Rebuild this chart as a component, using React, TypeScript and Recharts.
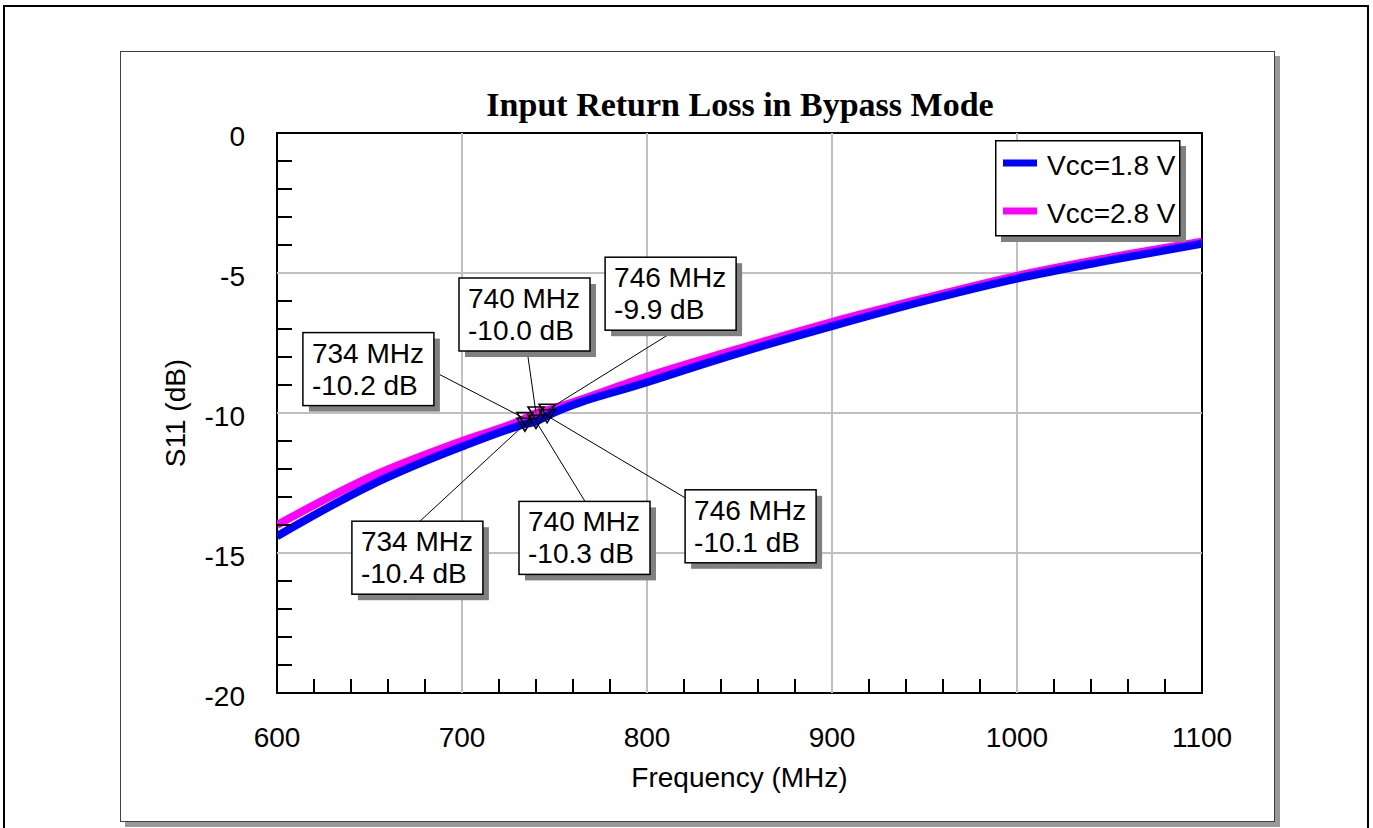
import React from 'react'
import {
  ComposedChart,
  Line,
  Scatter,
  XAxis,
  YAxis,
  ReferenceLine,
  ReferenceArea,
  Legend,
} from 'recharts'

// frequency (MHz)
const freqs = [600, 650, 700, 734, 740, 746, 800, 850, 900, 950, 1000, 1050, 1100]
// S11 (dB)
const s11Vcc18 = [-14.4, -12.6, -11.2, -10.4, -10.3, -10.1, -8.9, -7.85, -6.9, -6.0, -5.2, -4.55, -3.95]
const s11Vcc28 = [-14.0, -12.3, -11.0, -10.2, -10.0, -9.9, -8.7, -7.7, -6.75, -5.9, -5.1, -4.45, -3.88]

const markerFreqs = [734, 740, 746]

const xMajor = [600, 700, 800, 900, 1000, 1100]
const yMajor = [-20, -15, -10, -5, 0]
const xTicks = Array.from({ length: 26 }, (_, i) => 600 + i * 20)
const yTicks = Array.from({ length: 21 }, (_, i) => -20 + i)

const series = [
  { key: 'v18', name: 'Vcc=1.8 V', color: '#0000ff' },
  { key: 'v28', name: 'Vcc=2.8 V', color: '#ff00ff' },
]

const data = freqs.map((f, i) => ({ freq: f, v18: s11Vcc18[i], v28: s11Vcc28[i] }))
const markerPts = data.filter((d) => markerFreqs.includes(d.freq))

const FONT = '"Liberation Sans", Arial, sans-serif'
const FS = 28

// where each marker's callout box sits, relative to the marker
const boxLayout: Record<string, { dx: number; dy: number; ax: number; ay: number }> = {
  'v28-734': { dx: -222, dy: -86, ax: 131, ay: 39 },
  'v28-740': { dx: -77, dy: -135, ax: 68, ay: 72 },
  'v28-746': { dx: 58, dy: -153, ax: 72, ay: 72 },
  'v18-734': { dx: -173, dy: 97, ax: 68, ay: 0 },
  'v18-740': { dx: -17, dy: 80, ax: 66, ay: 0 },
  'v18-746': { dx: 138, dy: 74, ax: 0, ay: 8 },
}

const markerShape = (key: string) => (props: any) => {
  const { cx, cy, payload } = props
  const lay = boxLayout[`${key}-${payload.freq}`]
  if (!lay) return <g />
  const bx = cx + lay.dx
  const by = cy + lay.dy
  return (
    <g>
      <line x1={cx} y1={cy} x2={bx + lay.ax} y2={by + lay.ay} stroke="#000" strokeWidth={1} />
      <rect x={bx + 6} y={by + 6} width={131} height={73} fill="#808080" />
      <rect x={bx} y={by} width={131} height={73} fill="#fff" stroke="#000" strokeWidth={1.5} />
      <text x={bx + 9} y={by + 30} fontFamily={FONT} fontSize={FS} fill="#000">
        {payload.freq} MHz
      </text>
      <text x={bx + 9} y={by + 62} fontFamily={FONT} fontSize={FS} fill="#000">
        {payload[key].toFixed(1)} dB
      </text>
      <path
        d={`M${cx - 8},${cy - 6} L${cx + 8},${cy - 6} L${cx},${cy + 7} Z`}
        fill="none"
        stroke="#000"
        strokeWidth={1.6}
      />
    </g>
  )
}

const YTick = (props: any) => {
  const { x, y, payload } = props
  const v = payload.value
  if (yMajor.includes(v)) {
    return (
      <g>
        <text x={x - 32} y={y + 3} textAnchor="end" dominantBaseline="central" fontFamily={FONT} fontSize={FS} fill="#000">
          {v}
        </text>
      </g>
    )
  }
  return (
    <g>
      <line x1={x} y1={y} x2={x + 15} y2={y} stroke="#000" strokeWidth={2} />
    </g>
  )
}

const XTick = (props: any) => {
  const { x, y, payload } = props
  const v = payload.value
  if (xMajor.includes(v)) {
    return (
      <g>
        <text x={x} y={y + 44} textAnchor="middle" dominantBaseline="central" fontFamily={FONT} fontSize={FS} fill="#000">
          {v}
        </text>
      </g>
    )
  }
  return (
    <g>
      <line x1={x} y1={y} x2={x} y2={y - 14} stroke="#000" strokeWidth={2} />
    </g>
  )
}

const LegendBox = () => (
  <svg width={192} height={103}>
    <rect x={6} y={6} width={185} height={96} fill="#808080" />
    <rect x={0.75} y={0.75} width={184} height={95} fill="#fff" stroke="#000" strokeWidth={1.5} />
    {series.map((s, i) => (
      <g key={s.key}>
        <line x1={8} x2={42} y1={23 + i * 48} y2={23 + i * 48} stroke={s.color} strokeWidth={7} />
        <text x={52} y={35 + i * 48} fontFamily={FONT} fontSize={FS} fill="#000">
          {s.name}
        </text>
      </g>
    ))}
  </svg>
)

export default function App() {
  return (
    <div style={{ position: 'absolute', left: 0, top: 0, width: 1373, height: 828, background: '#fff', overflow: 'hidden' }}>
      <div
        style={{
          position: 'absolute',
          left: 3,
          top: 5,
          width: 1366,
          height: 840,
          border: '2px solid #000',
          boxSizing: 'border-box',
        }}
      />
      <div
        style={{
          position: 'absolute',
          left: 120,
          top: 51,
          width: 1155,
          height: 771,
          border: '1px solid #404040',
          boxSizing: 'border-box',
          boxShadow: '5px 5px 0 #999',
          background: '#fff',
        }}
      />
      <div style={{ position: 'absolute', left: 0, top: 0 }}>
        <ComposedChart
          width={1373}
          height={828}
          data={data}
          margin={{ top: 133, right: 171, bottom: 35, left: 120 }}
        >
          {[700, 800, 900, 1000].map((v) => (
            <ReferenceLine key={`gx${v}`} x={v} stroke="#c0c0c0" strokeWidth={2} />
          ))}
          {[-15, -10, -5].map((v) => (
            <ReferenceLine key={`gy${v}`} y={v} stroke="#c0c0c0" strokeWidth={2} />
          ))}
          <XAxis
            dataKey="freq"
            type="number"
            domain={[600, 1100]}
            ticks={xTicks}
            interval={0}
            tickSize={0}
            tickMargin={0}
            axisLine={false}
            tickLine={false}
            tick={<XTick />}
            height={100}
            allowDataOverflow
            label={(p: any) => {
              const vb = p.viewBox || { x: 277, y: 693, width: 925, height: 100 }
              return (
                <text x={vb.x + vb.width / 2} y={vb.y + 94} textAnchor="middle" fontFamily={FONT} fontSize={FS} fill="#000">
                  Frequency (MHz)
                </text>
              )
            }}
          />
          <YAxis
            type="number"
            domain={[-20, 0]}
            ticks={yTicks}
            interval={0}
            tickSize={0}
            tickMargin={0}
            axisLine={false}
            tickLine={false}
            tick={<YTick />}
            width={157}
            allowDataOverflow
            label={(p: any) => {
              const vb = p.viewBox || { x: 120, y: 133, width: 157, height: 560 }
              const cx = vb.x + 55
              const cy = vb.y + vb.height / 2
              return (
                <text
                  x={cx}
                  y={cy}
                  transform={`rotate(-90, ${cx}, ${cy})`}
                  textAnchor="middle"
                  dominantBaseline="central"
                  fontFamily={FONT}
                  fontSize={FS}
                  fill="#000"
                >
                  S11 (dB)
                </text>
              )
            }}
          />
          <Line
            type="monotone"
            dataKey="v28"
            name="Vcc=2.8 V"
            stroke="#ff00ff"
            strokeWidth={8}
            dot={false}
            isAnimationActive={false}
          />
          <Line
            type="monotone"
            dataKey="v18"
            name="Vcc=1.8 V"
            stroke="#0000ff"
            strokeWidth={8}
            dot={false}
            isAnimationActive={false}
          />
          <ReferenceArea x1={600} x2={1100} y1={-20} y2={0} fill="none" stroke="#000" strokeWidth={2} />
          <Scatter
            data={markerPts}
            dataKey="v28"
            legendType="none"
            fill="none"
            shape={markerShape('v28')}
            isAnimationActive={false}
          />
          <Scatter
            data={markerPts}
            dataKey="v18"
            legendType="none"
            fill="none"
            shape={markerShape('v18')}
            isAnimationActive={false}
          />
          <Legend
            layout="vertical"
            align="center"
            verticalAlign="middle"
            wrapperStyle={{ left: 995, top: 140, width: 192, height: 103 }}
            content={() => <LegendBox />}
          />
        </ComposedChart>
      </div>
      <div
        style={{
          position: 'absolute',
          left: 440,
          top: 88,
          width: 600,
          height: 34,
          lineHeight: '34px',
          textAlign: 'center',
          fontFamily: '"Liberation Serif", "Times New Roman", serif',
          fontWeight: 'bold',
          fontSize: 34,
          color: '#000',
          whiteSpace: 'nowrap',
        }}
      >
        Input Return Loss in Bypass Mode
      </div>
    </div>
  )
}
